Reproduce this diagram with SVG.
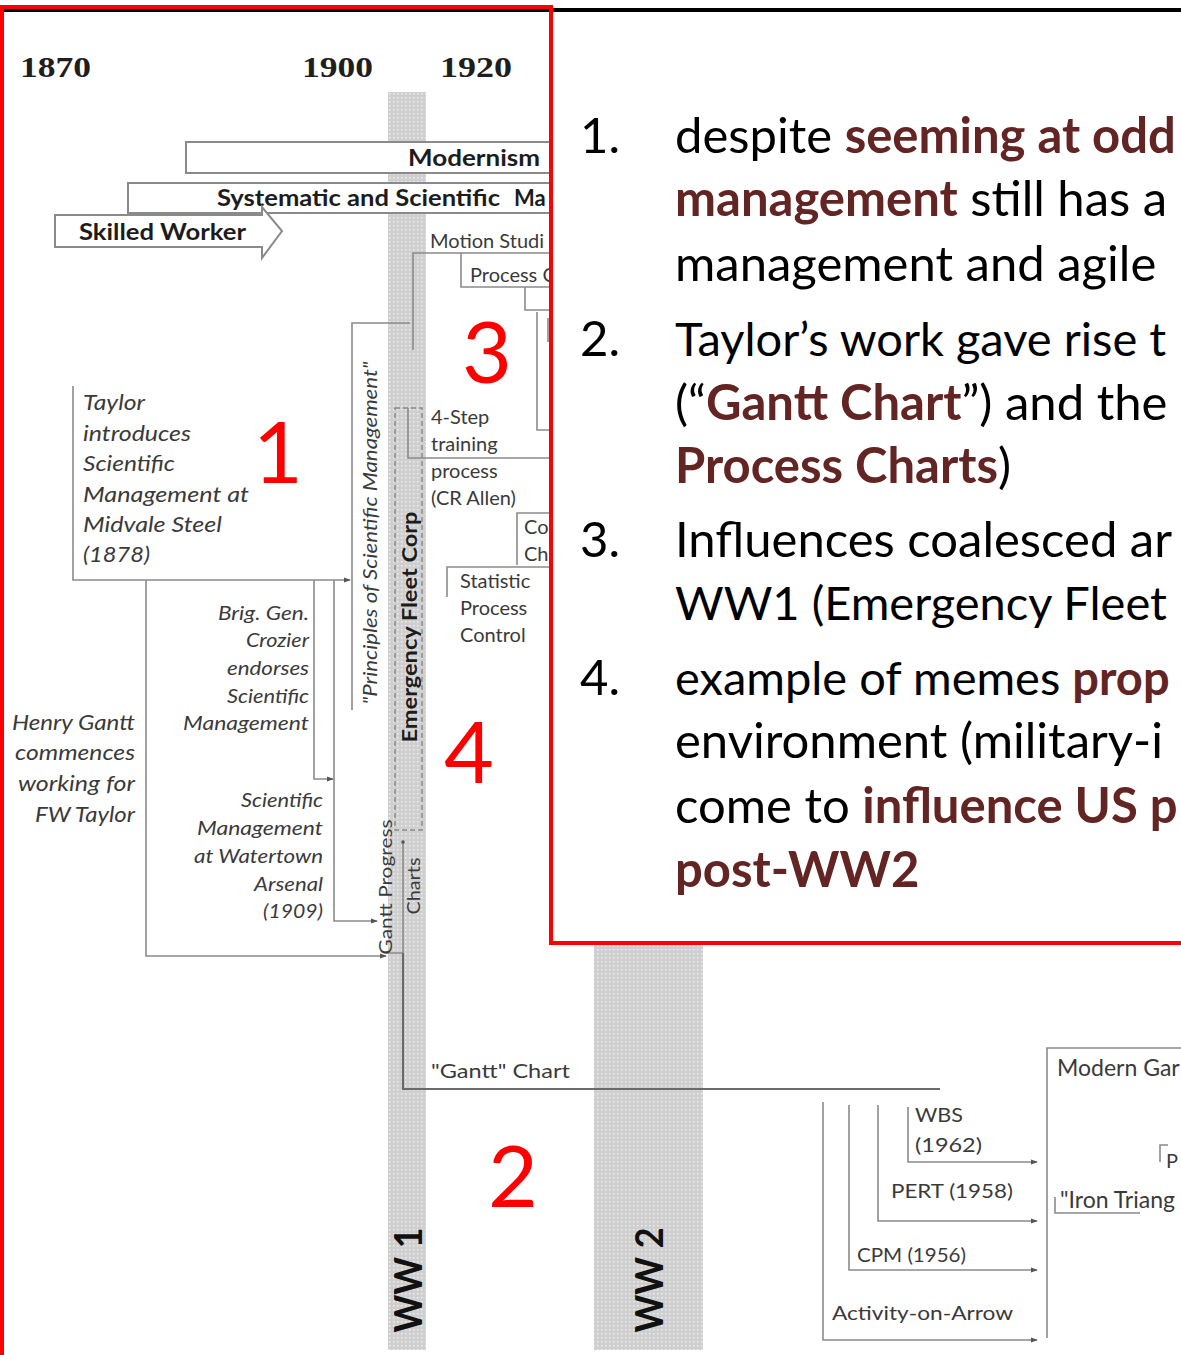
<svg xmlns="http://www.w3.org/2000/svg" width="1181" height="1355" viewBox="0 0 1181 1355">
  <style>
    .lbl { font-family: Lato, "Liberation Sans", sans-serif; fill: #3a3a3a; font-size: 20px; }
    .it { font-style: italic; }
    .r { text-anchor: end; }
    .hdr { font-family: Lato, "Liberation Sans", sans-serif; font-weight: bold; fill: #1c1c1c; font-size: 22px; }
    .yr { font-family: "Liberation Serif", serif; font-weight: bold; font-size: 30px; fill: #1e1e1e; }
    .ww { font-family: Lato, "Liberation Sans", sans-serif; font-weight: bold; font-size: 38px; fill: #111; text-anchor: middle; }
    .num { font-family: Lato, "Liberation Sans", sans-serif; font-size: 86px; fill: #ff0000; text-anchor: middle; }
    .body { font-family: Lato, "Liberation Sans", sans-serif; font-size: 49px; fill: #000; }
    .tight { font-size: 47px; }
    .em { font-weight: bold; fill: #632523; }
    .ln { fill: none; stroke: #8a8a8a; stroke-width: 1.6; }
    .dk { fill: none; stroke: #6a6a6a; stroke-width: 2.2; }
    .dash { fill: none; stroke: #8a8a8a; stroke-width: 1.5; stroke-dasharray: 5 3; }
    .box { fill: #fff; stroke: #8a8a8a; stroke-width: 2; }
  </style>
  <defs>
    <pattern id="dots" width="4" height="4" patternUnits="userSpaceOnUse">
      <rect width="4" height="4" fill="#cfcfcf"/>
      <rect x="1" y="1" width="1.5" height="1.5" fill="#ededed"/>
    </pattern>
    <marker id="arr" viewBox="0 0 8 8" refX="7" refY="4" markerWidth="7" markerHeight="7" markerUnits="userSpaceOnUse" orient="auto">
      <path d="M0,1 L8,4 L0,7 z" fill="#555"/>
    </marker>
  </defs>

  <rect width="1181" height="1355" fill="#fff"/>

  <!-- war bands -->
  <g id="bands">
    <rect x="388" y="92" width="38" height="1258" fill="url(#dots)"/>
    <rect x="594" y="92" width="109" height="1258" fill="url(#dots)"/>
  </g>

  <!-- year scale -->
  <g id="years">
    <text class="yr" x="20" y="77" textLength="71" lengthAdjust="spacingAndGlyphs">1870</text>
    <text class="yr" x="302" y="77" textLength="71" lengthAdjust="spacingAndGlyphs">1900</text>
    <text class="yr" x="440" y="77" textLength="72" lengthAdjust="spacingAndGlyphs">1920</text>
  </g>

  <!-- era bars -->
  <g id="modernism">
    <rect class="box" x="186" y="142" width="420" height="31"/>
    <text class="hdr" x="408" y="166" textLength="132" lengthAdjust="spacingAndGlyphs">Modernism</text>
  </g>
  <g id="systematic">
    <rect class="box" x="128" y="183" width="480" height="30"/>
    <text class="hdr" x="217" y="206" textLength="283" lengthAdjust="spacingAndGlyphs">Systematic and Scientific</text>
    <text class="hdr" x="514" y="206">Ma</text>
  </g>
  <g id="skilled-worker">
    <path class="box" d="M55,215 H262 V207 L282,231 L262,258 V247 H55 Z"/>
    <text class="hdr" x="79" y="240" style="font-size:23px" textLength="167" lengthAdjust="spacingAndGlyphs">Skilled Worker</text>
  </g>

  <!-- connectors -->
  <g id="connectors">
    <path class="ln" d="M413,350 V253 H560"/>
    <path class="ln" d="M352,710 V323 H410"/>
    <path class="ln" d="M461,253 V287 H560"/>
    <path class="ln" d="M525,287 V310 H560"/>
    <path class="ln" d="M537,312 V430 H560"/>
    <path class="ln" d="M548,318 V342"/>
    <path class="ln" d="M408,408 V458 H560"/>
    <rect class="dash" x="395" y="408" width="27" height="422"/>
    <path class="ln" d="M560,513 H517 V565"/>
    <path class="ln" d="M447,597 V567 H560"/>
    <path class="ln" d="M73,386 V580 H350" marker-end="url(#arr)"/>
    <path class="ln" d="M314,580 V779 H333" marker-end="url(#arr)"/>
    <path class="ln" d="M334,580 V921 H377" marker-end="url(#arr)"/>
    <path class="ln" d="M146,580 V956 H386" marker-end="url(#arr)"/>
    <path class="ln" d="M403,842 V953 H386"/>
    <circle cx="403" cy="842" r="1.8" fill="#555"/>
    <path class="dk" d="M403,953 V1089 H940"/>
    <path class="ln" d="M823,1102 V1340 H1037" marker-end="url(#arr)"/>
    <path class="ln" d="M849,1105 V1270 H1037" marker-end="url(#arr)"/>
    <path class="ln" d="M878,1105 V1221 H1037" marker-end="url(#arr)"/>
    <path class="ln" d="M908,1107 V1162 H1037" marker-end="url(#arr)"/>
    <path class="ln" d="M1047,1338 V1048 H1181"/>
    <path class="ln" d="M1160,1162 V1145 H1168"/>
    <path class="ln" d="M1055,1197 V1213 H1140"/>
  </g>

  <!-- event labels -->
  <g id="motion-study">
    <text class="lbl" x="430" y="248">Motion Studi</text>
  </g>
  <g id="process-charts">
    <text class="lbl" x="470" y="282">Process C</text>
  </g>
  <g id="principles">
    <text class="lbl it" transform="translate(377,533) rotate(-90)" text-anchor="middle" style="font-size:19px" textLength="343" lengthAdjust="spacingAndGlyphs">"Principles of Scientific Management"</text>
  </g>
  <g id="emergency-fleet">
    <text class="lbl" transform="translate(417,627) rotate(-90)" text-anchor="middle" style="font-weight:bold;fill:#1c1c1c" textLength="231" lengthAdjust="spacingAndGlyphs">Emergency Fleet Corp</text>
  </g>
  <g id="four-step">
    <text class="lbl" x="431" y="424">4-Step</text>
    <text class="lbl" x="431" y="451">training</text>
    <text class="lbl" x="431" y="478">process</text>
    <text class="lbl" x="431" y="505">(CR Allen)</text>
  </g>
  <g id="control-charts">
    <text class="lbl" x="524" y="534">Co</text>
    <text class="lbl" x="524" y="561">Ch</text>
  </g>
  <g id="spc">
    <text class="lbl" x="460" y="588">Statistic</text>
    <text class="lbl" x="460" y="615">Process</text>
    <text class="lbl" x="460" y="642">Control</text>
  </g>
  <g id="taylor-midvale">
    <text class="lbl it" x="83" y="410" style="font-size:22px" textLength="62" lengthAdjust="spacingAndGlyphs">Taylor</text>
    <text class="lbl it" x="83" y="441" style="font-size:22px" textLength="108" lengthAdjust="spacingAndGlyphs">introduces</text>
    <text class="lbl it" x="83" y="471" style="font-size:22px" textLength="92" lengthAdjust="spacingAndGlyphs">Scientific</text>
    <text class="lbl it" x="83" y="502" style="font-size:22px" textLength="166" lengthAdjust="spacingAndGlyphs">Management at</text>
    <text class="lbl it" x="83" y="532" style="font-size:22px" textLength="139" lengthAdjust="spacingAndGlyphs">Midvale Steel</text>
    <text class="lbl it" x="83" y="562" style="font-size:22px" textLength="67" lengthAdjust="spacingAndGlyphs">(1878)</text>
  </g>
  <g id="crozier">
    <text class="lbl it r" x="309" y="620" textLength="91" lengthAdjust="spacingAndGlyphs">Brig. Gen.</text>
    <text class="lbl it r" x="309" y="647" textLength="63" lengthAdjust="spacingAndGlyphs">Crozier</text>
    <text class="lbl it r" x="309" y="675" textLength="82" lengthAdjust="spacingAndGlyphs">endorses</text>
    <text class="lbl it r" x="309" y="703" textLength="82" lengthAdjust="spacingAndGlyphs">Scientific</text>
    <text class="lbl it r" x="309" y="730" textLength="126" lengthAdjust="spacingAndGlyphs">Management</text>
  </g>
  <g id="watertown">
    <text class="lbl it r" x="323" y="807" textLength="82" lengthAdjust="spacingAndGlyphs">Scientific</text>
    <text class="lbl it r" x="323" y="835" textLength="126" lengthAdjust="spacingAndGlyphs">Management</text>
    <text class="lbl it r" x="323" y="863" textLength="129" lengthAdjust="spacingAndGlyphs">at Watertown</text>
    <text class="lbl it r" x="323" y="891" textLength="69" lengthAdjust="spacingAndGlyphs">Arsenal</text>
    <text class="lbl it r" x="323" y="918" textLength="60" lengthAdjust="spacingAndGlyphs">(1909)</text>
  </g>
  <g id="henry-gantt">
    <text class="lbl it r" x="135" y="730" style="font-size:21px" textLength="123" lengthAdjust="spacingAndGlyphs">Henry Gantt</text>
    <text class="lbl it r" x="135" y="760" style="font-size:21px" textLength="120" lengthAdjust="spacingAndGlyphs">commences</text>
    <text class="lbl it r" x="135" y="791" style="font-size:21px" textLength="117" lengthAdjust="spacingAndGlyphs">working for</text>
    <text class="lbl it r" x="135" y="822" style="font-size:21px" textLength="100" lengthAdjust="spacingAndGlyphs">FW Taylor</text>
  </g>
  <g id="gantt-progress">
    <text class="lbl" transform="translate(392,887) rotate(-90)" text-anchor="middle" style="font-size:18px" textLength="135" lengthAdjust="spacingAndGlyphs">Gantt Progress</text>
    <text class="lbl" transform="translate(420,886) rotate(-90)" text-anchor="middle" style="font-size:18px" textLength="57" lengthAdjust="spacingAndGlyphs">Charts</text>
  </g>
  <g id="gantt-chart">
    <text class="lbl" x="431" y="1078" textLength="139" lengthAdjust="spacingAndGlyphs">"Gantt" Chart</text>
  </g>
  <g id="activity-on-arrow">
    <text class="lbl" x="832" y="1320" textLength="181" lengthAdjust="spacingAndGlyphs">Activity-on-Arrow</text>
  </g>
  <g id="cpm">
    <text class="lbl" x="857" y="1262" textLength="109" lengthAdjust="spacingAndGlyphs">CPM (1956)</text>
  </g>
  <g id="pert">
    <text class="lbl" x="891" y="1198" textLength="122" lengthAdjust="spacingAndGlyphs">PERT (1958)</text>
  </g>
  <g id="wbs">
    <text class="lbl" x="915" y="1122" textLength="48" lengthAdjust="spacingAndGlyphs">WBS</text>
    <text class="lbl" x="915" y="1152" textLength="67" lengthAdjust="spacingAndGlyphs">(1962)</text>
  </g>
  <g id="modern-gantt">
    <text class="lbl" x="1057" y="1076" style="font-size:23px">Modern Gar</text>
    <text class="lbl" x="1166" y="1168">P</text>
  </g>
  <g id="iron-triangle">
    <text class="lbl" x="1060" y="1208" style="font-size:23px">"Iron Triang</text>
  </g>

  <!-- war labels -->
  <g id="ww1">
    <text class="ww" transform="translate(422,1280) rotate(-90)" textLength="105" lengthAdjust="spacingAndGlyphs">WW 1</text>
  </g>
  <g id="ww2">
    <text class="ww" transform="translate(663,1280) rotate(-90)" textLength="105" lengthAdjust="spacingAndGlyphs">WW 2</text>
  </g>

  <!-- callout numbers -->
  <g id="callouts">
    <text class="num" x="278" y="483">1</text>
    <text class="num" x="487" y="383">3</text>
    <text class="num" x="469" y="783">4</text>
    <text class="num" x="513" y="1207">2</text>
  </g>

  <!-- notes panel -->
  <g id="notes">
    <rect x="551" y="11" width="640" height="932" fill="#fff"/>
    <text class="body" x="580" y="153">1.</text>
    <text class="body" x="675" y="153">despite <tspan class="em">seeming at odd</tspan></text>
    <text class="body" x="675" y="216"><tspan class="em">management</tspan> still has a</text>
    <text class="body" x="675" y="281">management and agile</text>
    <text class="body" x="580" y="356">2.</text>
    <text class="body tight" x="675" y="356">Taylor’s work gave rise t</text>
    <text class="body" x="675" y="420">(“<tspan class="em">Gantt Chart</tspan>”) and the</text>
    <text class="body" x="675" y="483"><tspan class="em">Process Charts</tspan>)</text>
    <text class="body" x="580" y="557">3.</text>
    <text class="body" x="675" y="557">Influences coalesced ar</text>
    <text class="body tight" x="675" y="620">WW1 (Emergency Fleet</text>
    <text class="body" x="580" y="695">4.</text>
    <text class="body tight" x="675" y="695">example of memes <tspan class="em">prop</tspan></text>
    <text class="body" x="675" y="758">environment (military-i</text>
    <text class="body" x="675" y="823">come to <tspan class="em">influence US p</tspan></text>
    <text class="body em" x="675" y="887">post-WW2</text>
  </g>

  <!-- frame -->
  <g id="frame">
    <line x1="0" y1="10" x2="1181" y2="10" stroke="#000" stroke-width="4"/>
    <path d="M2,1360 V7 H551 V943 H1190" fill="none" stroke="#ff0000" stroke-width="4"/>
  </g>
</svg>
